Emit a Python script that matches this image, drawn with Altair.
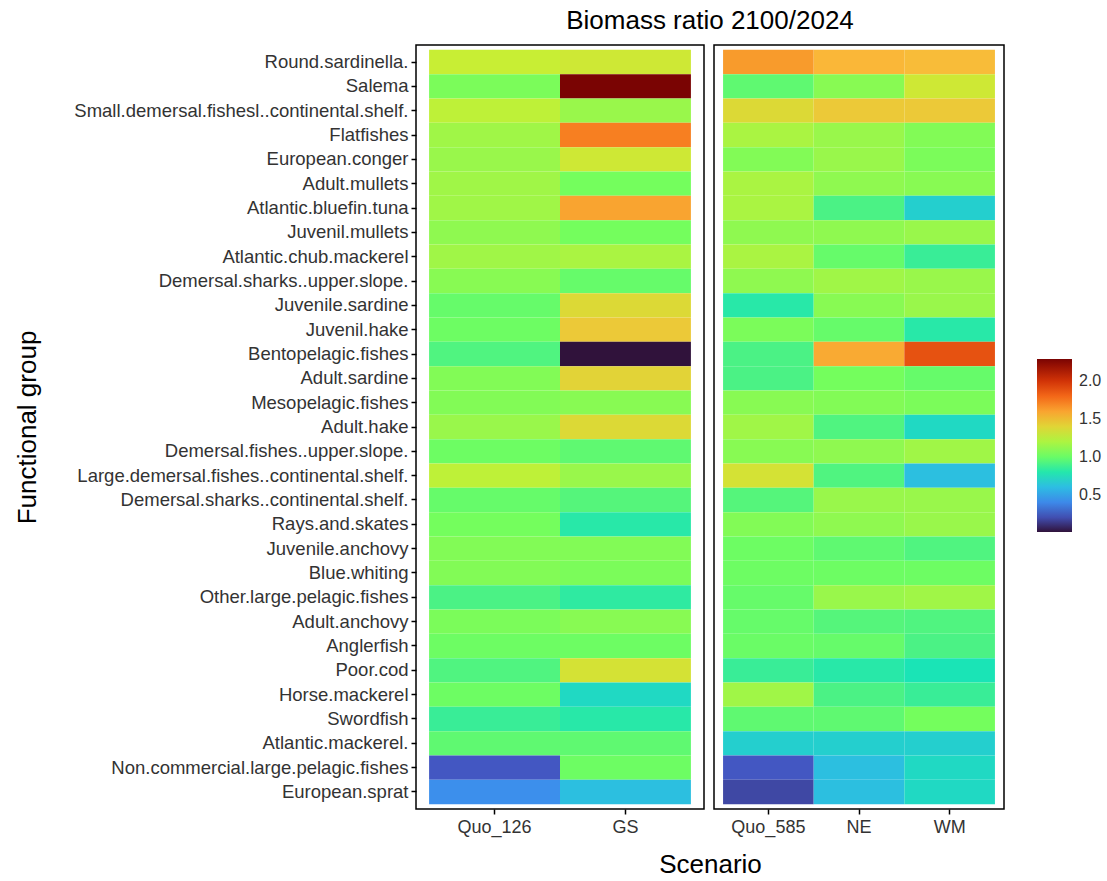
import altair as alt
import pandas as pd

groups = [
    "Round.sardinella.", "Salema", "Small.demersal.fishesl..continental.shelf.",
    "Flatfishes", "European.conger", "Adult.mullets", "Atlantic.bluefin.tuna",
    "Juvenil.mullets", "Atlantic.chub.mackerel", "Demersal.sharks..upper.slope.",
    "Juvenile.sardine", "Juvenil.hake", "Bentopelagic.fishes", "Adult.sardine",
    "Mesopelagic.fishes", "Adult.hake", "Demersal.fishes..upper.slope.",
    "Large.demersal.fishes..continental.shelf.", "Demersal.sharks..continental.shelf.",
    "Rays.and.skates", "Juvenile.anchovy", "Blue.whiting", "Other.large.pelagic.fishes",
    "Adult.anchovy", "Anglerfish", "Poor.cod", "Horse.mackerel", "Swordfish",
    "Atlantic.mackerel.", "Non.commercial.large.pelagic.fishes", "European.sprat",
]

scen_left = ["Quo_126", "GS"]
scen_right = ["Quo_585", "NE", "WM"]

quo126 = [1.28, 1.05, 1.25, 1.16, 1.14, 1.16, 1.16, 1.11, 1.16, 1.09, 0.99, 1.01, 0.925, 1.07, 1.07, 1.14,
          1.01, 1.25, 0.99, 1.03, 1.07, 1.07, 0.91, 1.05, 1.01, 0.925, 1.01, 0.86, 0.97, 0.23, 0.42]
gs = [1.31, 2.29, 1.14, 1.72, 1.31, 1.03, 1.60, 1.03, 1.19, 0.99, 1.38, 1.46, 0.01, 1.41, 1.09, 1.38,
      0.97, 1.14, 0.94, 0.81, 1.07, 1.05, 0.83, 1.09, 1.01, 1.34, 0.72, 0.81, 0.97, 1.01, 0.61]
quo585 = [1.63, 0.97, 1.38, 1.19, 1.07, 1.19, 1.19, 1.11, 1.19, 1.11, 0.81, 1.05, 0.91, 0.91, 1.09, 1.16,
          1.09, 1.34, 0.94, 1.07, 1.01, 1.01, 0.99, 0.99, 1.00, 0.86, 1.16, 0.97, 0.68, 0.23, 0.18]
ne = [1.54, 1.09, 1.46, 1.14, 1.14, 1.11, 0.91, 1.11, 0.99, 1.16, 1.09, 0.99, 1.58, 1.03, 1.07, 0.925,
      1.11, 0.925, 1.14, 1.11, 0.97, 1.01, 1.14, 0.94, 0.99, 0.81, 0.91, 0.97, 0.68, 0.61, 0.61]
wm = [1.52, 1.31, 1.46, 1.07, 1.05, 1.09, 0.68, 1.14, 0.86, 1.14, 1.14, 0.81, 1.88, 0.99, 1.05, 0.72,
      1.16, 0.61, 1.14, 1.14, 0.925, 1.01, 1.16, 0.925, 0.91, 0.77, 0.86, 1.03, 0.68, 0.72, 0.72]

legend_values = [0.5, 1.0, 1.5, 2.0]

# turbo palette stops (style)
turbo_stops = ["#30123B", "#4662D7", "#36AAF9", "#1AE4B6", "#72FE5E",
               "#C7EF34", "#FABA39", "#F66B19", "#CB2A04", "#7A0403"]

series = {"Quo_126": quo126, "GS": gs, "Quo_585": quo585, "NE": ne, "WM": wm}
rows = []
for scen, vals in series.items():
    for g, v in zip(groups, vals):
        rows.append({"Scenario": scen, "group": g, "ratio": v})
df = pd.DataFrame(rows)

all_vals = [v for vals in series.values() for v in vals]
vmin, vmax = min(all_vals), max(all_vals)

FONT = "Liberation Sans"
LABEL_COLOR = "#333333"

color = alt.Color(
    "ratio:Q",
    title=None,
    scale=alt.Scale(range=turbo_stops, domain=[vmin, vmax], interpolate="rgb"),
    legend=alt.Legend(
        orient="none", legendX=621, legendY=314,
        gradientLength=173, gradientThickness=35, gradientStrokeWidth=0,
        values=legend_values, format=".1f",
        labelFontSize=16, labelColor=LABEL_COLOR, labelFont=FONT, labelOffset=7,
        padding=0,
    ),
)

left = alt.Chart(df[df["Scenario"].isin(scen_left)]).mark_rect().encode(
    x=alt.X(
        "Scenario:N", sort=scen_left,
        scale=alt.Scale(paddingInner=0, paddingOuter=0.1),
        axis=alt.Axis(
            title="Scenario", titleX=294, titleY=55, titleBaseline="middle",
            titleFontSize=26, titleFontWeight="normal", titleFont=FONT, titleColor="black",
            labelAngle=0, labelFontSize=18, labelFont=FONT, labelColor=LABEL_COLOR, labelPadding=4,
            tickSize=5, tickColor="black", tickWidth=1.5, domain=False,
        ),
    ),
    y=alt.Y(
        "group:N", sort=groups,
        scale=alt.Scale(paddingInner=0, paddingOuter=0.2),
        axis=alt.Axis(
            title="Functional group", titleX=-389, titleY=382, titleBaseline="middle",
            titleFontSize=26, titleFontWeight="normal", titleFont=FONT, titleColor="black",
            labelFontSize=18.5, labelFont=FONT, labelColor=LABEL_COLOR, labelPadding=3,
            labelLimit=0,
            tickSize=5, tickColor="black", tickWidth=1.5, domain=False,
        ),
    ),
    color=color,
).properties(width=288, height=764)

right = alt.Chart(df[df["Scenario"].isin(scen_right)]).mark_rect().encode(
    x=alt.X(
        "Scenario:N", sort=scen_right, title=None,
        scale=alt.Scale(paddingInner=0, paddingOuter=0.1),
        axis=alt.Axis(
            labelAngle=0, labelFontSize=18, labelFont=FONT, labelColor=LABEL_COLOR, labelPadding=4,
            tickSize=5, tickColor="black", tickWidth=1.5, domain=False,
        ),
    ),
    y=alt.Y(
        "group:N", sort=groups,
        scale=alt.Scale(paddingInner=0, paddingOuter=0.2),
        axis=None,
    ),
    color=color,
).properties(width=290, height=764)

chart = alt.hconcat(left, right, spacing=10, bounds="flush").properties(
    title=alt.TitleParams(
        "Biomass ratio 2100/2024", fontSize=26, font=FONT, fontWeight="normal",
        color="black", anchor="start", align="center", dx=294, frame="group", offset=10,
    ),
    padding={"left": 13, "top": 8, "right": 5, "bottom": 5},
    background="white",
).configure_view(
    stroke="black", strokeWidth=1.5,
)

chart.save("out.html", embed_options={"renderer": "svg", "actions": False})
